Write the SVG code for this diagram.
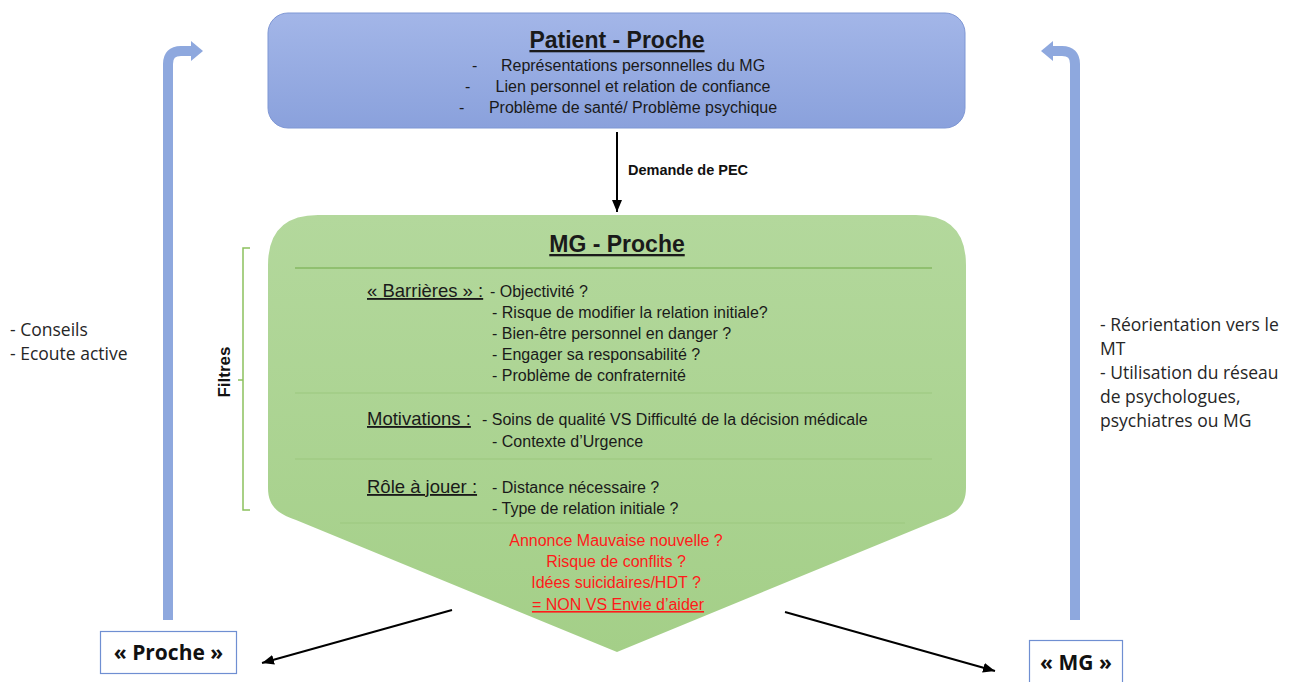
<svg xmlns="http://www.w3.org/2000/svg" width="1297" height="682" viewBox="0 0 1297 682">
<defs>
<linearGradient id="gBlue" x1="0" y1="0" x2="0" y2="1">
<stop offset="0" stop-color="#a3b6e8"/>
<stop offset="1" stop-color="#8aa1dc"/>
</linearGradient>
<linearGradient id="gGreen" x1="0" y1="0" x2="0" y2="1">
<stop offset="0" stop-color="#b3d89c"/>
<stop offset="1" stop-color="#a4cf88"/>
</linearGradient>
<marker id="ah" markerUnits="userSpaceOnUse" markerWidth="13" markerHeight="11" refX="12" refY="5" orient="auto">
<path d="M0,0 L12,5 L0,10 Z" fill="#000"/>
</marker>
<style>
.t{font-family:"Liberation Sans",Arial,sans-serif;font-size:16px;fill:#1a1a1a}
.h{font-family:"Liberation Sans",Arial,sans-serif;font-size:18.5px;fill:#1a1a1a;text-decoration:underline}
.ttl{font-family:"Liberation Sans",Arial,sans-serif;font-size:23px;font-weight:bold;fill:#1a1a1a;text-decoration:underline}
.red{font-family:"Liberation Sans",Arial,sans-serif;font-size:16px;fill:#ff1a1a}
.side{font-family:"Open Sans",sans-serif;font-size:17.5px;fill:#262626}
.lbl{font-family:"Open Sans",sans-serif;font-size:21px;font-weight:bold;fill:#111}
.sep{stroke:#9cc77e;stroke-width:1.2}
.barrow{fill:none;stroke:#8ea8de;stroke-width:10}
.conn{stroke:#000;stroke-width:2;fill:none;marker-end:url(#ah)}
</style>
</defs>
<rect width="1297" height="682" fill="#ffffff"/>

<g id="patient-proche">
<rect x="268" y="13" width="697" height="115" rx="20" ry="20" fill="url(#gBlue)" stroke="#7f97d4" stroke-width="1"/>
<text class="ttl" x="617" y="48" text-anchor="middle">Patient - Proche</text>
<text class="t" x="472" y="71">-</text>
<text class="t" x="633" y="71" text-anchor="middle">Représentations personnelles du MG</text>
<text class="t" x="465" y="92">-</text>
<text class="t" x="633" y="92" text-anchor="middle">Lien personnel et relation de confiance</text>
<text class="t" x="459" y="113">-</text>
<text class="t" x="633" y="113" text-anchor="middle">Problème de santé/ Problème psychique</text>
</g>

<g id="mg-proche">
<path d="M318,215 H916 Q966,215 966,265 V488 C966,506 956,514 938,520 L617,652 L296,520 C278,514 268,506 268,488 V265 Q268,215 318,215 Z" fill="url(#gGreen)"/>
<text class="ttl" x="617" y="252" text-anchor="middle">MG - Proche</text>
<line x1="295" y1="268" x2="932" y2="268" stroke="#86b862" stroke-width="1.5"/>
<text class="h" x="367" y="297">« Barrières » :</text>
<text class="t" x="490" y="297">- Objectivité ?</text>
<text class="t" x="492" y="318">- Risque de modifier la relation initiale?</text>
<text class="t" x="492" y="339">- Bien-être personnel en danger ?</text>
<text class="t" x="492" y="360">- Engager sa responsabilité ?</text>
<text class="t" x="492" y="381">- Problème de confraternité</text>
<line class="sep" x1="295" y1="393" x2="932" y2="393"/>
<text class="h" x="367" y="425">Motivations :</text>
<text class="t" x="482" y="425">- Soins de qualité VS Difficulté de la décision médicale</text>
<text class="t" x="492" y="447">- Contexte d’Urgence</text>
<line class="sep" x1="295" y1="459" x2="932" y2="459"/>
<text class="h" x="367" y="493">Rôle à jouer :</text>
<text class="t" x="492" y="493">- Distance nécessaire ?</text>
<text class="t" x="492" y="514">- Type de relation initiale ?</text>
<line class="sep" x1="340" y1="523" x2="905" y2="523"/>
<text class="red" x="616" y="546" text-anchor="middle">Annonce Mauvaise nouvelle ?</text>
<text class="red" x="616" y="567" text-anchor="middle">Risque de conflits ?</text>
<text class="red" x="616" y="588" text-anchor="middle">Idées suicidaires/HDT ?</text>
<text class="red" x="618" y="610" text-anchor="middle" text-decoration="underline">= NON VS Envie d’aider</text>
</g>

<g id="filtres">
<path d="M250,248 H243 V510 H250 M243,380 H238" fill="none" stroke="#8cc15e" stroke-width="1.5"/>
<text x="230" y="372" transform="rotate(-90 230 372)" text-anchor="middle" font-family="Liberation Sans, Arial, sans-serif" font-size="17" font-weight="bold" fill="#111">Filtres</text>
</g>

<g id="left-notes">
<text class="side" x="10" y="336">- Conseils</text>
<text class="side" x="10" y="360">- Ecoute active</text>
</g>

<g id="right-notes">
<text class="side" x="1100" y="331">- Réorientation vers le</text>
<text class="side" x="1100" y="355">MT</text>
<text class="side" x="1100" y="379">- Utilisation du réseau</text>
<text class="side" x="1100" y="403">de psychologues,</text>
<text class="side" x="1100" y="427">psychiatres ou MG</text>
</g>

<g id="proche-box">
<rect x="100.5" y="631.5" width="136" height="42" fill="#fff" stroke="#6f8fd2" stroke-width="1.2"/>
<text class="lbl" x="168.5" y="660" text-anchor="middle">« Proche »</text>
</g>

<g id="mg-box">
<rect x="1029.5" y="640.5" width="93" height="46" fill="#fff" stroke="#6f8fd2" stroke-width="1.2"/>
<text class="lbl" x="1076" y="670" text-anchor="middle">« MG »</text>
</g>

<g id="connectors">
<path class="barrow" d="M168,620 V64 Q168,51 181,51 H192"/>
<polygon points="191,41 203,51 191,61" fill="#8ea8de"/>
<path class="barrow" d="M1075,620 V64 Q1075,51 1062,51 H1052"/>
<polygon points="1053,41 1041,51 1053,61" fill="#8ea8de"/>
<line class="conn" x1="617" y1="132" x2="617" y2="212"/>
<text x="628" y="175" font-family="Liberation Sans, Arial, sans-serif" font-size="14.5" font-weight="bold" fill="#111">Demande de PEC</text>
<line class="conn" x1="452" y1="610" x2="262" y2="663"/>
<line class="conn" x1="785" y1="612" x2="995" y2="671"/>
</g>
</svg>
